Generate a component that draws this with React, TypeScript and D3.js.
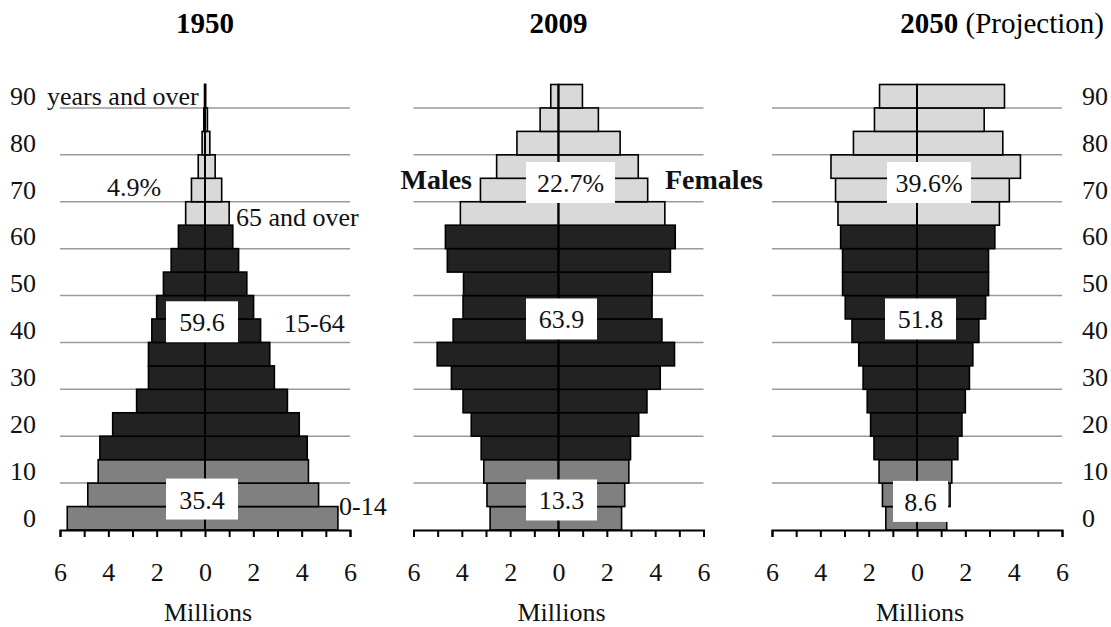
import React, { useEffect, useRef } from 'react';
import * as d3 from 'd3';

// age groups (start of each 5-year band), 90 = "90 and over"
const ageStarts = [0, 5, 10, 15, 20, 25, 30, 35, 40, 45, 50, 55, 60, 65, 70, 75, 80, 85, 90];

// population in millions
const males1950 = [5.7, 4.85, 4.42, 4.35, 3.82, 2.83, 2.34, 2.34, 2.2, 2.0, 1.72, 1.4, 1.1, 0.8, 0.56, 0.28, 0.12, 0.05, 0.02];
const females1950 = [5.5, 4.7, 4.28, 4.23, 3.9, 3.41, 2.87, 2.68, 2.3, 2.01, 1.73, 1.39, 1.15, 1.0, 0.69, 0.42, 0.2, 0.1, 0.03];
const males2009 = [2.83, 2.96, 3.09, 3.2, 3.61, 3.95, 4.43, 5.02, 4.36, 3.95, 3.93, 4.6, 4.68, 4.06, 3.23, 2.56, 1.72, 0.76, 0.32];
const females2009 = [2.61, 2.74, 2.91, 2.98, 3.32, 3.66, 4.21, 4.8, 4.28, 3.87, 3.88, 4.63, 4.83, 4.4, 3.69, 3.3, 2.55, 1.65, 0.99];
const males2050 = [1.29, 1.43, 1.57, 1.78, 1.92, 2.06, 2.23, 2.41, 2.69, 2.97, 3.08, 3.08, 3.16, 3.27, 3.37, 3.56, 2.63, 1.76, 1.55];
const females2050 = [1.23, 1.37, 1.44, 1.69, 1.86, 2.0, 2.17, 2.31, 2.56, 2.84, 2.96, 2.96, 3.22, 3.41, 3.82, 4.28, 3.55, 2.78, 3.62];

// share of total population (%) per group: 0-14, 15-64, 65+
const shares1950 = ['35.4', '59.6', '4.9%'];
const shares2009 = ['13.3', '63.9', '22.7%'];
const shares2050 = ['8.6', '51.8', '39.6%'];

const xTicks = [-6, -5, -4, -3, -2, -1, 0, 1, 2, 3, 4, 5, 6];
const ageTicks = [0, 10, 20, 30, 40, 50, 60, 70, 80, 90];
const gridAges = [10, 20, 30, 40, 50, 60, 70, 80, 90];

const FONT = '"Liberation Serif", "Times New Roman", serif';
const W = 1111;
const H = 627;

const groupColor = (age: number) => (age < 15 ? '#808080' : age < 65 ? '#222222' : '#d9d9d9');

const App: React.FC = () => {
  const svgRef = useRef<SVGSVGElement | null>(null);

  useEffect(() => {
    if (!svgRef.current) return;
    const svg = d3.select(svgRef.current);
    svg.selectAll('*').remove();

    const y = d3.scaleLinear().domain([0, 95]).range([530, 84.5]);
    const band = (a: number) => y(a) - y(a + 5);

    const panels = [
      { title: '1950', sub: '', cx: 205, males: males1950, females: females1950, shares: shares1950,
        boxes: [{ dx: -3, age: 6.6, w: 72 }, { dx: -3, age: 44.4, w: 72 }, null] },
      { title: '2009', sub: '', cx: 558.5, males: males2009, females: females2009, shares: shares2009,
        boxes: [{ dx: 3, age: 6.4, w: 71 }, { dx: 3, age: 45, w: 71 }, { dx: 12, age: 74.1, w: 89 }] },
      { title: '2050', sub: ' (Projection)', cx: 917, males: males2050, females: females2050, shares: shares2050,
        boxes: [{ dx: 3.5, age: 6.1, w: 55 }, { dx: 3.5, age: 45, w: 71 }, { dx: 12, age: 74.1, w: 84 }] },
    ];

    panels.forEach((p, pi) => {
      const x = d3.scaleLinear().domain([-6, 6]).range([p.cx - 145, p.cx + 145]);
      const g = svg.append('g');

      // grid
      g.selectAll('line.grid')
        .data(gridAges)
        .enter()
        .append('line')
        .attr('x1', x(-6))
        .attr('x2', x(6))
        .attr('y1', (d) => y(d))
        .attr('y2', (d) => y(d))
        .attr('stroke', '#9a9a9a')
        .attr('stroke-width', 1.5);

      const rows = ageStarts.map((a, i) => ({ age: a, m: p.males[i], f: p.females[i] }));

      // males (left)
      g.selectAll('rect.m')
        .data(rows)
        .enter()
        .append('rect')
        .attr('x', (d) => x(-d.m))
        .attr('y', (d) => y(d.age + 5))
        .attr('width', (d) => x(0) - x(-d.m))
        .attr('height', (d) => band(d.age))
        .attr('fill', (d) => groupColor(d.age))
        .attr('stroke', '#000')
        .attr('stroke-width', 1.6);

      // females (right)
      g.selectAll('rect.f')
        .data(rows)
        .enter()
        .append('rect')
        .attr('x', x(0))
        .attr('y', (d) => y(d.age + 5))
        .attr('width', (d) => x(d.f) - x(0))
        .attr('height', (d) => band(d.age))
        .attr('fill', (d) => groupColor(d.age))
        .attr('stroke', '#000')
        .attr('stroke-width', 1.6);

      // centre line
      g.append('line')
        .attr('x1', x(0))
        .attr('x2', x(0))
        .attr('y1', y(95))
        .attr('y2', y(0))
        .attr('stroke', '#000')
        .attr('stroke-width', 2);

      // x axis
      const ax = g
        .append('g')
        .attr('transform', `translate(0,${y(0)})`)
        .call(
          d3
            .axisBottom(x)
            .tickValues(xTicks)
            .tickSize(7)
            .tickPadding(26)
            .tickFormat((d) => (Math.abs(+d) % 2 === 0 ? String(Math.abs(+d)) : ''))
        );
      ax.select('.domain').attr('stroke', '#000').attr('stroke-width', 2);
      ax.selectAll('.tick line').attr('stroke', '#000').attr('stroke-width', 2);
      ax.selectAll('text').attr('fill', '#111').style('font-size', '26px').style('font-family', FONT);

      g.append('text')
        .attr('x', p.cx + 3)
        .attr('y', 612)
        .attr('text-anchor', 'middle')
        .attr('dominant-baseline', 'central')
        .style('font-size', '26px')
        .style('font-family', FONT)
        .attr('fill', '#111')
        .text('Millions');

      // share boxes
      p.boxes.forEach((b, bi) => {
        if (!b) return;
        const cy = y(b.age);
        g.append('rect')
          .attr('x', p.cx + b.dx - b.w / 2)
          .attr('y', cy - 20.5)
          .attr('width', b.w)
          .attr('height', 41)
          .attr('fill', '#fff');
        g.append('text')
          .attr('x', p.cx + b.dx)
          .attr('y', cy + 1)
          .attr('text-anchor', 'middle')
          .attr('dominant-baseline', 'central')
          .style('font-size', '26px')
          .style('font-family', FONT)
          .attr('fill', '#111')
          .text(p.shares[bi]);
      });

      // title
      const t = g
        .append('text')
        .attr('y', 33)
        .style('font-family', FONT)
        .attr('fill', '#000');
      if (p.sub) {
        t.attr('x', 1104).attr('text-anchor', 'end');
      } else {
        t.attr('x', p.cx).attr('text-anchor', 'middle');
      }
      t.append('tspan').style('font-size', '29px').style('font-weight', 'bold').text(p.title);
      if (p.sub) t.append('tspan').style('font-size', '29px').text(p.sub);

      // age labels
      if (pi !== 1) {
        const left = pi === 0;
        g.selectAll('text.age')
          .data(ageTicks)
          .enter()
          .append('text')
          .attr('x', left ? 36 : 1082)
          .attr('y', (d) => y(d + 2.5))
          .attr('text-anchor', left ? 'end' : 'start')
          .attr('dominant-baseline', 'central')
          .style('font-size', '26px')
          .style('font-family', FONT)
          .attr('fill', '#111')
          .text((d) => String(d));
      }
    });

    // free annotations
    const note = (txt: string, xx: number, yy: number, anchor = 'start', bold = false) =>
      svg
        .append('text')
        .attr('x', xx)
        .attr('y', yy)
        .attr('text-anchor', anchor)
        .attr('dominant-baseline', 'central')
        .style('font-size', bold ? '28px' : '26px')
        .style('font-weight', bold ? 'bold' : 'normal')
        .style('font-family', FONT)
        .attr('fill', '#111')
        .text(txt);

    note('years and over', 47, y(92.5));
    note('4.9%', 134, 187, 'middle');
    note('65 and over', 236, 217);
    note('15-64', 284, 323);
    note('0-14', 339, 506);
    note('Males', 472, 179, 'end', true);
    note('Females', 665, 179, 'start', true);
  }, []);

  return (
    <div style={{ position: 'absolute', left: 0, top: 0, background: '#fff' }}>
      <svg ref={svgRef} width={W} height={H} style={{ display: 'block' }} />
    </div>
  );
};

export default App;
